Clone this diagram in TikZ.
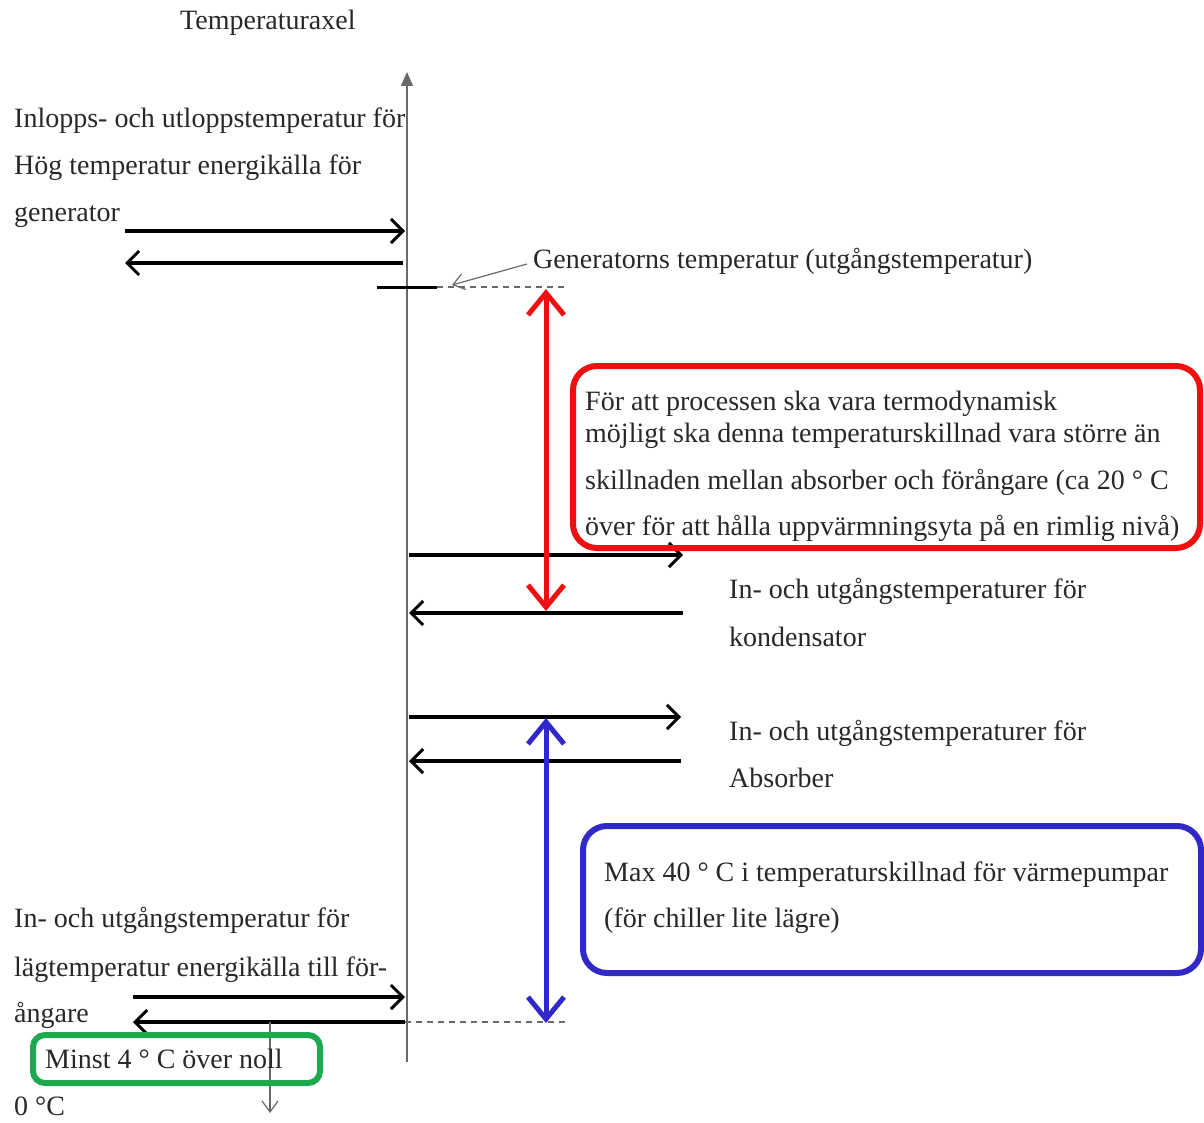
\documentclass[tikz,border=0pt]{standalone}
\usepackage{fontspec}
\setmainfont{Liberation Serif}
\usetikzlibrary{arrows.meta,positioning}
\definecolor{redline}{RGB}{238,16,16}
\definecolor{blueline}{RGB}{48,40,200}
\definecolor{greenline}{RGB}{30,168,80}
\definecolor{axisgray}{RGB}{105,105,105}
\definecolor{ink}{RGB}{40,40,40}
\tikzset{
  txt/.style={anchor=base west,inner sep=0pt,font=\fontsize{28}{32}\selectfont,text=ink},
  flow/.style={line width=3.2pt,-{Straight Barb[length=12pt,width=24pt,line width=3pt]}},
  thin arrow/.style={axisgray,line width=1.2pt,-{Straight Barb[length=11pt,width=16pt,line width=1.2pt]}},
  level/.style={axisgray,line width=1.2pt,dash pattern=on 6pt off 5pt},
  gapred/.style={redline,line width=5pt,{Straight Barb[length=22pt,width=36pt,line width=5pt]}-{Straight Barb[length=22pt,width=36pt,line width=5pt]}},
  gapblue/.style={blueline,line width=5pt,{Straight Barb[length=22pt,width=36pt,line width=5pt]}-{Straight Barb[length=22pt,width=36pt,line width=5pt]}},
  notebox/.style={draw,line width=6pt,rounded corners=24pt,inner sep=0pt}
}
\begin{document}
\begin{tikzpicture}[x=1pt,y=-1pt]
  \useasboundingbox (0,0) rectangle (1204,1123);
  % axel
  \coordinate (axbot) at (407,1062);
  \coordinate (axtop) at (407,72);
  \draw[axisgray,line width=1.6pt,-{Triangle[length=14pt,width=12pt]}] (axbot) -- (axtop);
  \node[txt] (title) at (180,30) {Temperaturaxel};
  % generator
  \node[txt] (gen1) at (14,128) {Inlopps- och utloppstemperatur för};
  \node[txt] (gen2) at (14,175) {Hög temperatur energikälla för};
  \node[txt] (gen3) at (14,222) {generator};
  \coordinate (genin0) at (125,231);  \coordinate (genin1) at (405,231);
  \coordinate (genut0) at (403,263);  \coordinate (genut1) at (125,263);
  \draw[flow] (genin0) -- (genin1);
  \draw[flow] (genut0) -- (genut1);
  \coordinate (gtick0) at (377,287); \coordinate (gtick1) at (437,287);
  \coordinate (gdash) at (567,287);
  \draw[line width=3pt] (gtick0) -- (gtick1);
  \draw[level] (gtick1) -- (gdash);
  \node[txt] (genlab) at (533,269) {Generatorns temperatur (utgångstemperatur)};
  \coordinate (genlabpt) at (527,264);
  \coordinate (genlabend) at (452,285);
  \draw[thin arrow] (genlabpt) -- (genlabend);
  % kondensator
  \coordinate (konin0) at (409,555); \coordinate (konin1) at (683,555);
  \coordinate (konut0) at (683,613); \coordinate (konut1) at (409,613);
  \draw[flow] (konin0) -- (konin1);
  \draw[flow] (konut0) -- (konut1);
  \node[txt] (kon1) at (729,598) {In- och utgångstemperaturer för};
  \node[txt] (kon2) at (729,646) {kondensator};
  % absorber
  \coordinate (absin0) at (409,717); \coordinate (absin1) at (681,717);
  \coordinate (absut0) at (681,761); \coordinate (absut1) at (409,761);
  \draw[flow] (absin0) -- (absin1);
  \draw[flow] (absut0) -- (absut1);
  \node[txt] (abs1) at (729,740) {In- och utgångstemperaturer för};
  \node[txt] (abs2) at (729,787) {Absorber};
  % foerangare
  \node[txt] (ev1) at (14,927) {In- och utgångstemperatur för};
  \node[txt] (ev2) at (14,976) {lägtemperatur energikälla till för-};
  \node[txt] (ev3) at (14,1022) {ångare};
  \coordinate (evin0) at (133,997); \coordinate (evin1) at (405,997);
  \coordinate (evut0) at (405,1022); \coordinate (evut1) at (133,1022);
  \draw[flow] (evin0) -- (evin1);
  \draw[flow] (evut0) -- (evut1);
  \coordinate (edash) at (567,1022);
  \draw[level] (evut0) -- (edash);
  \coordinate (noll0) at (270,1022); \coordinate (noll1) at (270,1113);
  \draw[thin arrow] (noll0) -- (noll1);
  \node[notebox,draw=greenline,rounded corners=12pt,minimum width=287pt,minimum height=48pt] (grbox) at (176.5,1059) {};
  \node[txt] (minst) at (45,1068) {Minst 4 ° C över noll};
  \node[txt] (zero) at (14,1115) {0 °C};
  % temperaturskillnader
  \coordinate (rtop) at (546,289); \coordinate (rbot) at (546,611);
  \draw[gapred] (rtop) -- (rbot);
  \coordinate (btop) at (546,718); \coordinate (bbot) at (546,1023);
  \draw[gapblue] (btop) -- (bbot);
  \node[notebox,draw=redline,minimum width=627pt,minimum height=182pt] (redbox) at (886.5,457) {};
  \node[txt] (r1) at (585,410) {För att processen ska vara termodynamisk};
  \node[txt] (r2) at (585,442) {möjligt ska denna temperaturskillnad vara större än};
  \node[txt] (r3) at (585,489) {skillnaden mellan absorber och förångare (ca 20 ° C};
  \node[txt] (r4) at (585,535) {över för att hålla uppvärmningsyta på en rimlig nivå)};
  \node[notebox,draw=blueline,minimum width=618pt,minimum height=147pt] (bluebox) at (892,899.5) {};
  \node[txt] (b1) at (604,881) {Max 40 ° C i temperaturskillnad för värmepumpar};
  \node[txt] (b2) at (604,927) {(för chiller lite lägre)};
\end{tikzpicture}
\end{document}
